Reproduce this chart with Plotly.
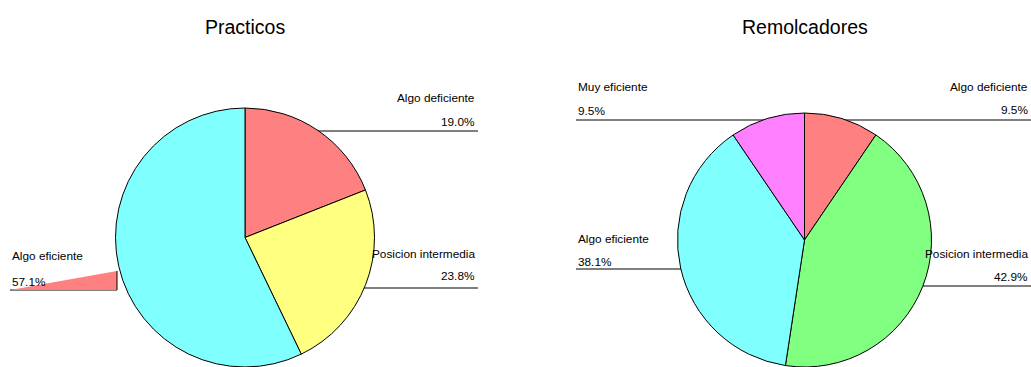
import plotly.graph_objects as go

# ---- data ----
titles = ["Practicos", "Remolcadores"]
practicos_labels = ["Algo deficiente", "Posicion intermedia", "Algo eficiente"]
practicos_values = [19.0, 23.8, 57.1]
remolcadores_labels = ["Algo deficiente", "Posicion intermedia", "Algo eficiente", "Muy eficiente"]
remolcadores_values = [9.5, 42.9, 38.1, 9.5]

# ---- styling / layout ----
W, H = 1031, 367
col = {"Algo deficiente": "#FF8080", "Posicion intermedia": "#FFFF80",
       "Algo eficiente": "#80FFFF", "Muy eficiente": "#FF80FF"}
col_right = {"Algo deficiente": "#FF8080", "Posicion intermedia": "#80FF80",
             "Algo eficiente": "#80FFFF", "Muy eficiente": "#FF80FF"}
FONT = "Liberation Sans, Arial, sans-serif"

def px(x):
    return x / W

def py(y):
    return 1 - y / H

def domain(cx, cy, r):
    return dict(x=[px(cx - r), px(cx + r)], y=[max(0, py(cy + r)), py(cy - r)])

pie_geom = [(245, 237.5, 129.5), (804.5, 240, 127)]

fig = go.Figure()
fig.add_trace(go.Pie(
    labels=practicos_labels, values=practicos_values, sort=False,
    direction="clockwise", rotation=0, textinfo="none", hoverinfo="label+percent",
    marker=dict(colors=[col[l] for l in practicos_labels], line=dict(color="black", width=1)),
    domain=domain(*pie_geom[0]), showlegend=False))
fig.add_trace(go.Pie(
    labels=remolcadores_labels, values=remolcadores_values, sort=False,
    direction="clockwise", rotation=0, textinfo="none", hoverinfo="label+percent",
    marker=dict(colors=[col_right[l] for l in remolcadores_labels], line=dict(color="black", width=1)),
    domain=domain(*pie_geom[1]), showlegend=False))

# label placement: (pie, index, side, text x, label y, pct y, line y, line x0, line x1)
placements = [
    (0, 0, "right", 477, 98, 122, 131, 300, 478),
    (0, 1, "right", 477, 254, 276, 288, 330, 478),
    (0, 2, "left", 10, 256, 282, 290, 10, 117),
    (1, 3, "left", 576, 87, 111, 120, 576, 797),
    (1, 0, "right", 1030, 87, 110, 120, 812, 1031),
    (1, 2, "left", 576, 239, 262, 269, 576, 700),
    (1, 1, "right", 1030, 254, 277, 286, 900, 1031),
]
data = [(practicos_labels, practicos_values), (remolcadores_labels, remolcadores_values)]

annotations = []
shapes = []
for pie, idx, side, tx, ly, pcty, liney, lx0, lx1 in placements:
    labels, values = data[pie]
    pct = "%.1f%%" % values[idx]
    anchor = "right" if side == "right" else "left"
    for txt, yy in ((labels[idx], ly), (pct, pcty)):
        annotations.append(dict(text=txt, x=px(tx), y=py(yy), xref="paper", yref="paper",
                                xanchor=anchor, yanchor="middle", showarrow=False,
                                font=dict(family=FONT, size=11.8, color="black")))
    shapes.append(dict(type="line", xref="paper", yref="paper", layer="below",
                       x0=px(lx0), x1=px(lx1), y0=py(liney), y1=py(liney),
                       line=dict(color="black", width=1)))

# the odd filled wedge beside "Algo eficiente" in the left chart
shapes.append(dict(type="path", xref="paper", yref="paper", layer="below",
                   path="M %f %f L %f %f L %f %f Z" % (px(10), py(290), px(117), py(271), px(117), py(290)),
                   fillcolor="#FF8080", line=dict(width=0)))
shapes.append(dict(type="line", xref="paper", yref="paper", layer="below",
                   x0=px(117), x1=px(117), y0=py(271), y1=py(290),
                   line=dict(color="black", width=1)))

for (cx, cy, r), t in zip(pie_geom, titles):
    annotations.append(dict(text=t, x=px(cx), y=py(27), xref="paper", yref="paper",
                            xanchor="center", yanchor="middle", showarrow=False,
                            font=dict(family=FONT, size=19.5, color="black")))

fig.update_layout(width=W, height=H, margin=dict(l=0, r=0, t=0, b=0),
                  paper_bgcolor="white", plot_bgcolor="white",
                  annotations=annotations, shapes=shapes)
fig.write_html("out.html")
